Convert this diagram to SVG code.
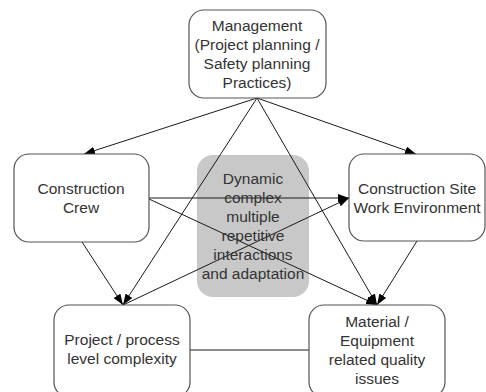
<svg xmlns="http://www.w3.org/2000/svg" width="486" height="392" viewBox="0 0 486 392">
  <defs>
    <marker id="arrow" markerUnits="userSpaceOnUse" markerWidth="12" markerHeight="10" refX="11" refY="4" orient="auto">
      <path d="M0,0 L11,4 L0,8 Z" fill="#000"/>
    </marker>
  </defs>
  <style>
    .box { fill: #fff; stroke: #555; stroke-width: 1.2; }
    .core { fill: #c8c8c8; stroke: none; }
    .edge { stroke: #1a1a1a; stroke-width: 1; fill: none; }
    .arr { marker-end: url(#arrow); }
    text { font-family: "Liberation Sans", Arial, sans-serif; font-size: 15.5px; fill: #333; text-anchor: middle; }
  </style>
  <rect width="486" height="392" fill="#fff"/>

  <g id="core">
    <rect class="core" x="197" y="155" width="112" height="142" rx="16"/>
  </g>

  <g id="connectors">
    <line class="edge arr" x1="257" y1="98" x2="84" y2="154"/>
    <line class="edge arr" x1="257" y1="98" x2="416" y2="154"/>
    <line class="edge arr" x1="257" y1="98" x2="123" y2="305"/>
    <line class="edge arr" x1="257" y1="98" x2="377" y2="305"/>
    <line class="edge arr" x1="149" y1="198" x2="349" y2="198"/>
    <line class="edge arr" x1="149" y1="199" x2="377" y2="305"/>
    <line class="edge arr" x1="82" y1="242" x2="123" y2="305"/>
    <line class="edge arr" x1="123" y1="305" x2="349" y2="198"/>
    <line class="edge arr" x1="417" y1="241" x2="377" y2="305"/>
    <line class="edge" x1="190" y1="350" x2="309" y2="350"/>
  </g>

  <g id="core-label">
    <text x="253" y="184">Dynamic</text>
    <text x="253" y="203">complex</text>
    <text x="253" y="222">multiple</text>
    <text x="253" y="241">repetitive</text>
    <text x="253" y="260">interactions</text>
    <text x="253" y="279">and adaptation</text>
  </g>

  <g id="management">
    <rect class="box" x="189" y="10" width="137" height="88" rx="15"/>
    <text x="257" y="31">Management</text>
    <text x="257" y="50">(Project planning /</text>
    <text x="257" y="69">Safety planning</text>
    <text x="257" y="88">Practices)</text>
  </g>

  <g id="crew">
    <rect class="box" x="14" y="154" width="135" height="88" rx="15"/>
    <text x="81" y="194">Construction</text>
    <text x="81" y="213">Crew</text>
  </g>

  <g id="site">
    <rect class="box" x="349" y="154" width="136" height="87" rx="15"/>
    <text x="417" y="194">Construction Site</text>
    <text x="417" y="213">Work Environment</text>
  </g>

  <g id="project">
    <rect class="box" x="54" y="305" width="136" height="92" rx="15"/>
    <text x="122" y="345">Project / process</text>
    <text x="122" y="364">level complexity</text>
  </g>

  <g id="material">
    <rect class="box" x="309" y="305" width="136" height="92" rx="15"/>
    <text x="377" y="327">Material /</text>
    <text x="377" y="346">Equipment</text>
    <text x="377" y="365">related quality</text>
    <text x="377" y="384">issues</text>
  </g>
</svg>
